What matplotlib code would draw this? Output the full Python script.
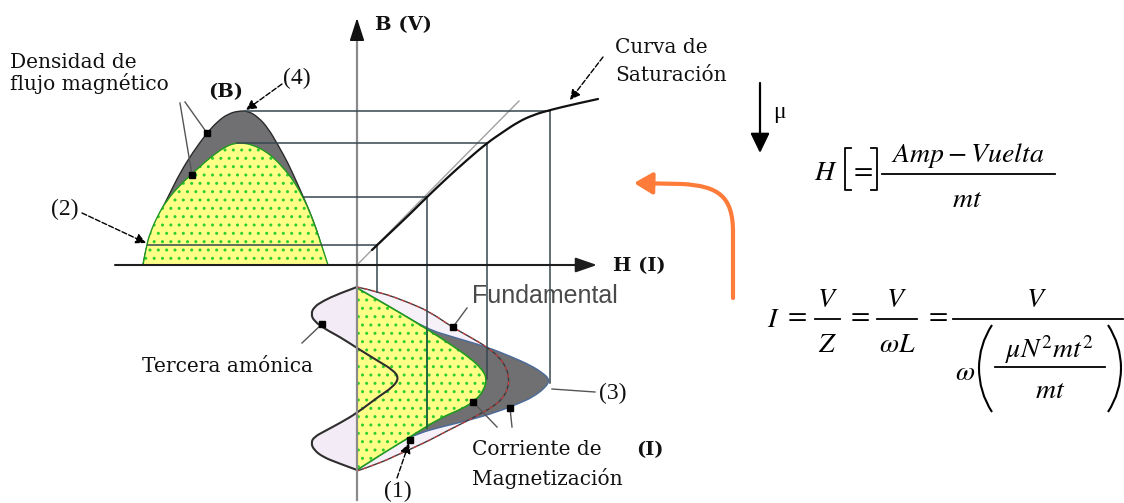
import matplotlib.pyplot as plt
from matplotlib.path import Path
from matplotlib.patches import PathPatch, FancyArrowPatch

plt.rcParams['mathtext.fontset'] = 'stix'

# --- geometry of the diagram (drawing units: x to the right, y downwards) ---
origin = (357, 265)

# saturation curve B(H)
sat_x = [372, 392, 410, 427, 447, 467, 487, 503, 518, 533, 550, 575, 598]
sat_y = [250, 231, 214, 197, 178, 160, 143, 132, 122, 115, 110, 104, 99]
tangent_end = (519, 101)

# flux density waveforms (half cycle on the H-axis)
flux_outer_x = [143, 147, 153, 160, 170, 180, 193, 207, 218, 228, 238, 248, 258, 268, 278, 288, 298, 306, 313, 320, 327]
flux_outer_y = [265, 243, 228, 213, 193, 173, 152, 133, 121, 114, 111, 111, 117, 128, 145, 163, 185, 203, 220, 240, 265]
flux_sine_x = [143, 146, 150, 158, 167, 180, 193, 205, 215, 225, 235, 245, 255, 265, 275, 285, 293, 303, 311, 320, 328]
flux_sine_y = [265, 248, 233, 215, 200, 185, 173, 162, 154, 147, 143, 143, 146, 151, 159, 170, 180, 197, 215, 240, 265]

# current waveforms (half cycle along the downward time axis)
fund_x = [357, 380, 410, 430, 452, 470, 487, 499, 506, 509, 508, 503, 494, 480, 465, 447, 430, 413, 395, 380, 357]
fund_y = [287, 292, 303, 312, 327, 337, 347, 357, 367, 378, 388, 398, 406, 414, 422, 431, 440, 448, 456, 463, 471]
mag_x = [357, 392, 427, 453, 487, 512, 530, 543, 550, 545, 533, 520, 497, 470, 437, 420, 400, 380, 357]
mag_y = [288, 308, 329, 337, 347, 357, 365, 373, 380, 388, 397, 403, 412, 420, 428, 433, 442, 455, 470]
lin_x = [357, 392, 427, 453, 470, 481, 487, 484, 476, 462, 440, 410, 385, 357]
lin_y = [288, 308, 329, 346, 358, 368, 378, 390, 400, 409, 418, 437, 452, 470]
third_x = [357, 338, 323, 314, 311, 314, 325, 340, 357, 378, 393, 399, 393, 378, 357, 340, 325, 314, 311, 314, 323, 338, 357]
third_y = [287, 294, 301, 307, 314, 321, 329, 337, 348, 361, 370, 378, 387, 397, 413, 423, 431, 437, 443, 450, 457, 463, 470]
upper_loop = slice(0, 9)
lower_loop = slice(14, 23)

# projection lines: flux level -> point on curve -> down to current
proj_y = [111, 143, 197, 245]
proj_x0 = [245, 237, 304, 148]
proj_x = [550, 487, 427, 377]
proj_bottom = [383, 379, 428, 292]

marker_x = [207, 192, 322, 453, 473, 510, 410]
marker_y = [133, 175, 324, 327, 402, 408, 440]


def smooth_path(xs, ys, closed=False):
    pts = list(zip(xs, ys))
    verts = [pts[0]]
    codes = [Path.MOVETO]
    for i in range(1, len(pts) - 1):
        if i == len(pts) - 2:
            end = pts[-1]
        else:
            end = ((pts[i][0] + pts[i + 1][0]) / 2, (pts[i][1] + pts[i + 1][1]) / 2)
        verts += [pts[i], end]
        codes += [Path.CURVE3, Path.CURVE3]
    if closed:
        verts.append(pts[0])
        codes.append(Path.CLOSEPOLY)
    return Path(verts, codes)


def shape(ax, xs, ys, fc, ec='none', lw=0, z=1, **kw):
    ax.add_patch(PathPatch(smooth_path(xs, ys, closed=True), fc=fc, ec=ec, lw=lw, zorder=z, **kw))


def curve(ax, xs, ys, color, lw=1.0, z=3, **kw):
    ax.add_patch(PathPatch(smooth_path(xs, ys), fc='none', ec=color, lw=lw, zorder=z,
                           capstyle='round', **kw))


def arrow(ax, start, end, color='black', lw=1.0, ls='-', hl=0.6, hw=0.3, z=6):
    ax.annotate('', xy=end, xytext=start,
                arrowprops=dict(arrowstyle=f'-|>,head_length={hl},head_width={hw}',
                                color=color, lw=lw, ls=ls, shrinkA=0, shrinkB=0,
                                mutation_scale=10), zorder=z)


fig = plt.figure(figsize=(11.24, 5.03), dpi=100)
ax = fig.add_axes([0, 0, 1, 1])
ax.set_xlim(0, 1124)
ax.set_ylim(503, 0)
ax.axis('off')

yellow = '#ffff88'
green = '#2fcf2f'
grey_fill = '#707072'
lav = '#f6f0f8'
line_c = '#36464e'

# flux density B
shape(ax, flux_outer_x, flux_outer_y, grey_fill, ec='#2a2a2a', lw=1.0, z=2)
shape(ax, flux_sine_x, flux_sine_y, yellow, z=2.1)
shape(ax, flux_sine_x, flux_sine_y, 'none', ec=green, lw=0, z=2.2, hatch='..')
shape(ax, flux_sine_x, flux_sine_y, 'none', ec='#1f9a1f', lw=1.0, z=2.3)

# currents
shape(ax, fund_x, fund_y, lav, z=1.5)
shape(ax, mag_x, mag_y, grey_fill, ec='#4a6a9a', lw=1.0, z=2)
shape(ax, lin_x, lin_y, yellow, z=2.1)
shape(ax, lin_x, lin_y, 'none', ec=green, lw=0, z=2.2, hatch='..')
shape(ax, lin_x, lin_y, 'none', ec='#1f9a1f', lw=1.2, z=2.3)
shape(ax, third_x[upper_loop], third_y[upper_loop], '#f3ebf5', z=1.6)
shape(ax, third_x[lower_loop], third_y[lower_loop], '#f3ebf5', z=1.6)
curve(ax, fund_x, fund_y, '#3a3a3a', lw=1.0, z=3)
curve(ax, fund_x, fund_y, '#d04040', lw=0.8, z=3.1, ls=(0, (3, 4)))
curve(ax, third_x, third_y, '#2e2e2e', lw=1.5, z=3.2)

# axes
ax.plot([origin[0], origin[0]], [500, 30], color='#8a8a8a', lw=1.6, zorder=4)
arrow(ax, (origin[0], 40), (origin[0], 18), color='#111', lw=1.2, hl=1.4, hw=0.45, z=5)
arrow(ax, (115, origin[1]), (597, origin[1]), color='#1e1e1e', lw=1.5, hl=1.3, hw=0.45, z=5)

# magnetization curve and its linear tangent
ax.plot([origin[0], tangent_end[0]], [origin[1], tangent_end[1]], color='#a0a0a0', lw=1.0, zorder=4)
curve(ax, sat_x, sat_y, '#111111', lw=1.6, z=5)

# projections
for y, x0, x, yb in zip(proj_y, proj_x0, proj_x, proj_bottom):
    ax.plot([x0, x], [y, y], color=line_c, lw=1.1, zorder=4)
    ax.plot([x, x], [y, yb], color=line_c, lw=1.1, zorder=4)
# the drop line turns dark green where it crosses the yellow current
ax.plot([427, 427], [329, 428], color='#1d6a3a', lw=1.3, zorder=4.1)

# markers and pointers
ax.plot(marker_x, marker_y, 's', color='black', ms=4.5, zorder=7)
for (xa, ya), (xb, yb) in [((180, 103), (192, 175)), ((185, 102), (207, 133)),
                           ((453, 327), (467, 308)), ((302, 343), (322, 324)),
                           ((497, 427), (473, 402)), ((512, 427), (510, 408)),
                           ((552, 389), (595, 392))]:
    ax.plot([xa, xb], [ya, yb], color='#555', lw=1.0, zorder=6)

arrow(ax, (282, 84), (246, 110), ls='--')
arrow(ax, (82, 213), (146, 243), ls='--')
arrow(ax, (603, 57), (570, 100), ls='--')
arrow(ax, (397, 478), (409, 443), ls='--')

# labels
serif = dict(family='DejaVu Serif', fontsize=14.5, color='#111', va='baseline')
ax.text(10, 68, 'Densidad de', **serif)
ax.text(10, 90, 'flujo magnético', **serif)
ax.text(615, 53, 'Curva de', **serif)
ax.text(615, 81, 'Saturación', **serif)
ax.text(142, 372, 'Tercera amónica', **serif)
ax.text(472, 455, 'Corriente de', **serif)
ax.text(472, 485, 'Magnetización', **serif)

bold = dict(family='DejaVu Serif', fontsize=14, fontweight='bold', color='#111', va='baseline')
ax.text(226, 97, '(B)', ha='center', **bold)
ax.text(375, 30, 'B (V)', **bold)
ax.text(613, 271, 'H (I)', **bold)
ax.text(650, 455, '(I)', ha='center', **bold)

num = dict(family='Liberation Serif', fontsize=17, color='#111', va='baseline')
ax.text(297, 84, '(4)', ha='center', **num)
ax.text(65, 215, '(2)', ha='center', **num)
ax.text(613, 399, '(3)', ha='center', **num)
ax.text(398, 497, '(1)', ha='center', **num)

ax.text(472, 303, 'Fundamental', family='Liberation Sans', fontsize=18, color='#4a4a4a',
        va='baseline', zorder=8)

# sweep arrow
sweep = Path([(733, 298), (733, 232), (733, 196), (718, 186), (682, 184), (634, 183)],
             [Path.MOVETO, Path.LINETO, Path.CURVE4, Path.CURVE4, Path.CURVE4, Path.LINETO])
ax.add_patch(FancyArrowPatch(path=sweep, arrowstyle='-|>,head_length=1.1,head_width=0.65',
                             mutation_scale=10, color='#ff7b3a', lw=3.0, zorder=6))

# permeability arrow
arrow(ax, (760, 83), (760, 153), color='black', lw=1.6, hl=1.2, hw=0.58)
ax.text(773, 118, 'μ', family='Liberation Serif', fontsize=17, va='baseline')

# H units
fs = 20
mt = dict(fontsize=fs, va='baseline', color='black')
ax.text(814, 180, r'$H$', **mt)
ax.plot([851, 845, 845, 851], [148, 148, 190, 190], color='black', lw=1.3)
ax.plot([871, 877, 877, 871], [148, 148, 190, 190], color='black', lw=1.3)
ax.text(861, 177, r'$=$', ha='center', **mt)
ax.text(968, 162, r'$Amp-Vuelta$', ha='center', **mt)
ax.plot([882, 1055], [174, 174], color='black', lw=1.3)
ax.text(967, 207, r'$mt$', ha='center', **mt)

# current formula
ax.text(767, 327, r'$I$', **mt)
for xc in [795, 858, 936]:
    ax.text(xc, 322, r'$=$', ha='center', **mt)
for (xa, xb), num_s, den_s in [((815, 840), r'$V$', r'$Z$'),
                               ((877, 917), r'$V$', r'$\omega L$')]:
    ax.plot([xa, xb], [319, 319], color='black', lw=1.3)
    ax.text((xa + xb) / 2, 307, num_s, ha='center', **mt)
    ax.text((xa + xb) / 2, 352, den_s, ha='center', **mt)
ax.plot([953, 1123], [319, 319], color='black', lw=1.3)
ax.text(1037, 307, r'$V$', ha='center', **mt)
ax.text(955, 380, r'$\omega$', **mt)
for x_end, x_mid in [(992, 979), (1108, 1121)]:
    paren = Path([(x_end, 325), (x_mid, 345), (x_mid, 368), (x_mid, 392), (x_end, 412)],
                 [Path.MOVETO, Path.CURVE3, Path.CURVE3, Path.CURVE3, Path.CURVE3])
    ax.add_patch(PathPatch(paren, fc='none', ec='black', lw=1.5))
ax.text(1050, 358, r'$\mu N^{2} mt^{2}$', ha='center', **mt)
ax.plot([995, 1105], [367, 367], color='black', lw=1.3)
ax.text(1050, 398, r'$mt$', ha='center', **mt)

fig.savefig('out.png', dpi=100, facecolor='white')
